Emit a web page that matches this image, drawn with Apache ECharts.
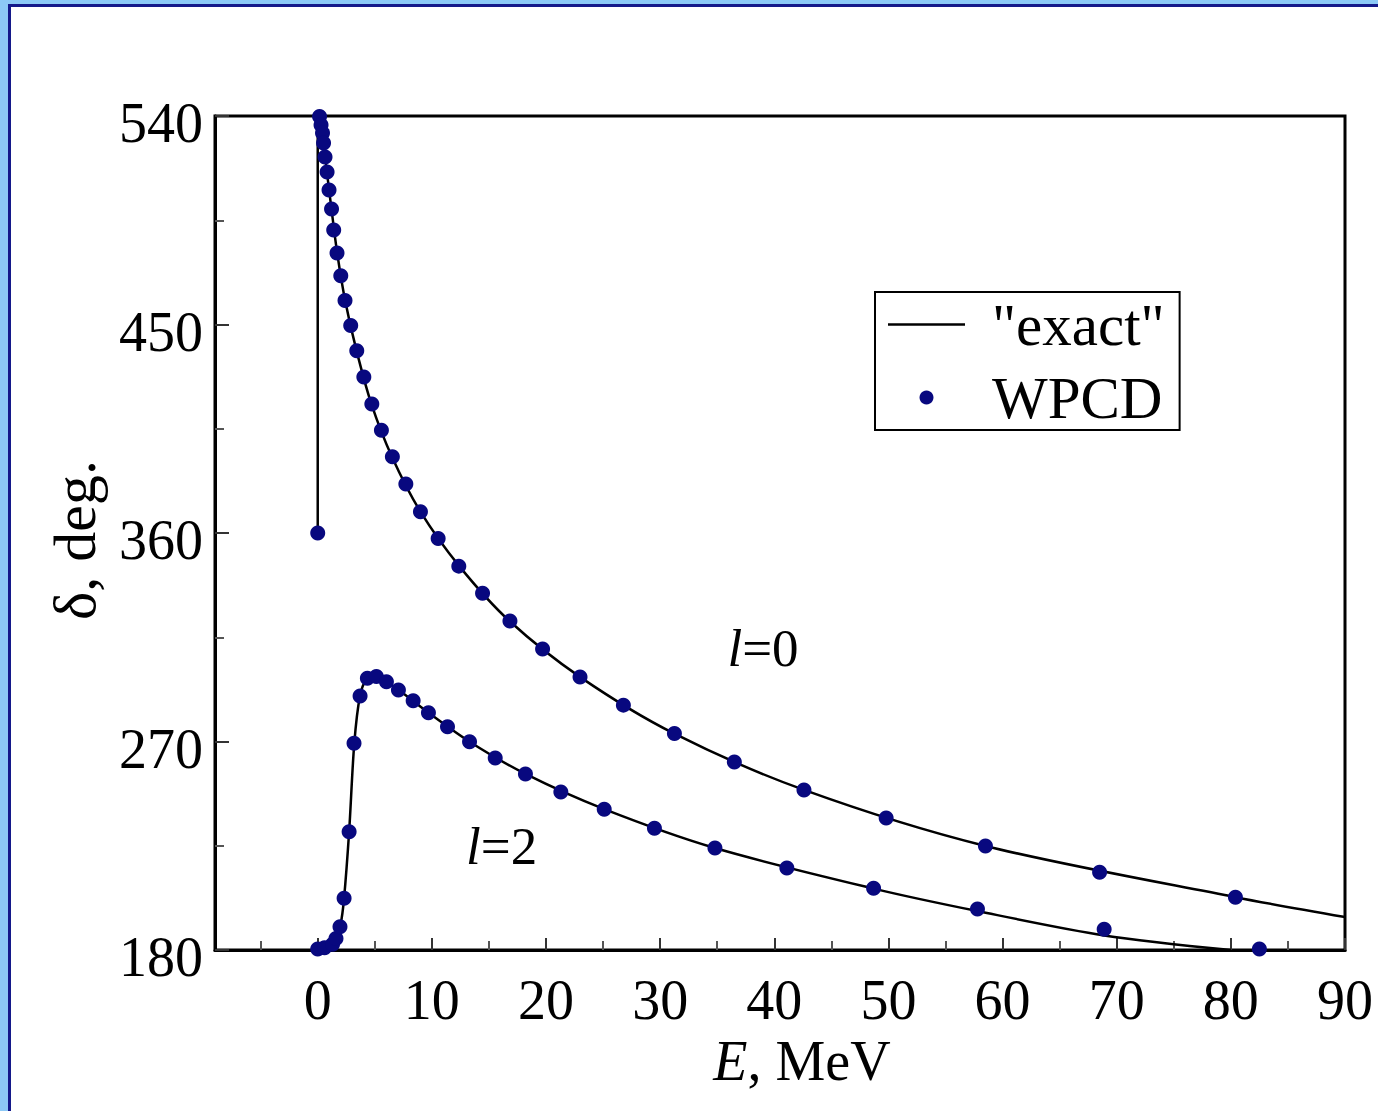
<!DOCTYPE html>
<html>
<head>
<meta charset="utf-8">
<script src="https://cdn.jsdelivr.net/npm/echarts@6/dist/echarts.min.js"></script>
<style>
  html, body { margin: 0; padding: 0; width: 1378px; height: 1111px; overflow: hidden; background: #fff; }
  #frame { position: absolute; left: 0; top: 0; width: 1378px; height: 1111px; background: #8cc9f6; }
  #paper { position: absolute; left: 8px; top: 4px; right: 0; bottom: 0; background: #fff;
           border-left: 3px solid #14198a; border-top: 3px solid #14198a; }
  #chart { position: absolute; left: 0; top: 0; width: 1378px; height: 1111px; }
</style>
</head>
<body>
<div id="frame"><div id="paper"></div></div>
<div id="chart"></div>
<script>
// Phase shifts delta (deg) versus energy E (MeV), pairs [E, delta]

// WPCD points, l = 0
const wpcdL0 = [
  [0, 360],
  [0.16, 539.8], [0.29, 536.1], [0.42, 532.7], [0.51, 528.3], [0.64, 522.3],
  [0.82, 515.8], [0.99, 508.1], [1.21, 499.9], [1.40, 490.8], [1.69, 480.9],
  [2.02, 471.0], [2.39, 460.4], [2.89, 449.6], [3.42, 438.7], [4.04, 427.3],
  [4.74, 415.7], [5.58, 404.4], [6.54, 392.9], [7.72, 381.1], [9.0, 369.2],
  [10.55, 357.6], [12.36, 345.7], [14.44, 334.0], [16.84, 322.0], [19.7, 309.9],
  [22.98, 297.8], [26.78, 285.7], [31.25, 273.5], [36.5, 261.1], [42.6, 249.1],
  [49.8, 237.0], [58.5, 224.9], [68.5, 213.6], [80.4, 202.8]
];

// WPCD points, l = 2
const wpcdL2 = [
  [0, 180.4], [0.6, 181.0], [1.3, 182.5], [1.6, 185.0], [1.95, 190.0],
  [2.31, 202.3], [2.75, 231.0], [3.18, 269.2], [3.71, 289.6], [4.35, 297.3],
  [5.14, 298.1], [6.02, 295.8], [7.07, 292.2], [8.36, 287.6], [9.7, 282.4],
  [11.37, 276.4], [13.3, 269.9], [15.55, 262.9], [18.2, 256.0], [21.3, 248.2],
  [25.1, 240.8], [29.5, 232.6], [34.8, 224.0], [41.1, 215.4], [48.7, 206.7],
  [57.8, 197.7], [68.9, 189.0], [82.5, 180.4]
];

// "exact" curves
const exactL0Threshold = [[0, 360], [0, 540]];
const exactL0 = [
  [0.12, 540], [0.3, 536], [0.5, 528.5], [0.8, 516], [1.2, 500], [1.7, 481],
  [2.4, 460.4], [3.4, 438.7], [4.7, 415.7], [6.5, 392.9], [9.0, 369.2],
  [12.4, 345.7], [16.8, 322.0], [23.0, 297.8], [31.2, 273.5], [42.6, 249.1],
  [58.5, 224.9], [80.4, 202.8], [90, 194.2]
];
const exactL2 = [
  [0, 180], [1.0, 181.5], [1.6, 185], [2.0, 191], [2.3, 202], [2.75, 231],
  [3.2, 269], [3.7, 289.6], [4.3, 297], [5.1, 298], [6.0, 295.8], [7.1, 292.2],
  [9.7, 282.4], [13.3, 269.9], [18.2, 256.0], [25.1, 240.8], [34.8, 224.0],
  [48.7, 206.5], [57.8, 196.8], [68.9, 186.3], [80, 180]
];

// Axis ticks
const xMajorTicks = [0, 10, 20, 30, 40, 50, 60, 70, 80, 90];
const xMinorTicks = [-5, 5, 15, 25, 35, 45, 55, 65, 75, 85];
const yTicks = [180, 270, 360, 450, 540];

// Curve annotations: [E, delta, orbital momentum]
const curveNotes = [[35.9, 310.3, '0'], [13.0, 224.9, '2']];

const FONT = "'Liberation Serif', 'Times New Roman', serif";
const DOT = '#08087f';

const chart = echarts.init(document.getElementById('chart'), null, { renderer: 'svg' });

const option = {
  animation: false,
  backgroundColor: 'transparent',
  grid: {
    left: 215, top: 116, width: 1130, height: 834,
    show: true, borderColor: '#000', borderWidth: 3, backgroundColor: 'transparent'
  },
  legend: {
    left: 875, top: 292, orient: 'vertical',
    data: [
      { name: '"exact"', icon: 'path://M0,0H77V2.5H0Z', itemStyle: { color: '#000' } },
      { name: 'WPCD', icon: 'circle', itemStyle: { color: DOT } }
    ],
    itemWidth: 77, itemHeight: 14, itemGap: 14,
    borderColor: '#000', borderWidth: 2, padding: [3, 15, 3, 13],
    selectedMode: false,
    textStyle: { fontFamily: FONT, fontSize: 59, color: '#000', padding: [0, 0, 0, 22] }
  },
  xAxis: [
    {
      type: 'value', min: -9, max: 90,
      name: '{i|E}, MeV', nameLocation: 'middle', nameGap: 78,
      nameTextStyle: {
        fontFamily: FONT, fontSize: 56, color: '#000', padding: [0, 0, 0, 44],
        rich: { i: { fontFamily: FONT, fontSize: 56, fontStyle: 'italic', color: '#000' } }
      },
      axisLine: { show: true, onZero: false, lineStyle: { color: '#000', width: 3 } },
      axisTick: { show: true, inside: true, length: 12, customValues: xMajorTicks,
                  lineStyle: { color: '#333', width: 2 } },
      axisLabel: { show: true, customValues: xMajorTicks, margin: 22,
                   fontFamily: FONT, fontSize: 56, color: '#000' },
      splitLine: { show: false }
    },
    {
      type: 'value', min: -9, max: 90, position: 'bottom',
      axisLine: { show: false, onZero: false },
      axisTick: { show: true, inside: true, length: 9, customValues: xMinorTicks,
                  lineStyle: { color: '#555', width: 2 } },
      axisLabel: { show: false },
      splitLine: { show: false }
    }
  ],
  yAxis: {
    type: 'value', min: 180, max: 540, interval: 90,
    name: 'δ, deg.', nameLocation: 'middle', nameGap: 110,
    nameTextStyle: { fontFamily: FONT, fontSize: 60, color: '#000', padding: [0, 14, 0, 0] },
    axisLine: { show: true, onZero: false, lineStyle: { color: '#000', width: 3 } },
    axisTick: { show: true, inside: true, length: 14, customValues: yTicks,
                lineStyle: { color: '#333', width: 2 } },
    minorTick: { show: true, splitNumber: 2, length: 9, lineStyle: { color: '#555', width: 2 } },
    axisLabel: {
      show: true, customValues: yTicks, margin: 12,
      formatter: '{v|{value}}',
      rich: { v: { fontFamily: FONT, fontSize: 56, color: '#000', padding: [14, 0, 0, 0] } }
    },
    splitLine: { show: false }, minorSplitLine: { show: false }
  },
  series: [
    { name: '"exact"', type: 'line', xAxisIndex: 0, data: exactL0, smooth: 0.3,
      symbol: 'none', color: '#000', lineStyle: { color: '#000', width: 2.5 }, z: 2 },
    { name: '"exact"', type: 'line', xAxisIndex: 0, data: exactL0Threshold,
      symbol: 'none', color: '#000', lineStyle: { color: '#000', width: 2.5 }, z: 2 },
    { name: '"exact"', type: 'line', xAxisIndex: 0, data: exactL2, smooth: 0.3,
      symbol: 'none', color: '#000', lineStyle: { color: '#000', width: 2.5 }, z: 2 },
    { name: 'WPCD', type: 'scatter', xAxisIndex: 0, data: wpcdL0, symbol: 'circle',
      symbolSize: 15, itemStyle: { color: DOT, opacity: 1 }, z: 3 },
    { name: 'WPCD', type: 'scatter', xAxisIndex: 0, data: wpcdL2, symbol: 'circle',
      symbolSize: 15, itemStyle: { color: DOT, opacity: 1 }, z: 3 }
  ]
};

chart.setOption(option);

// Place the "l=…" annotations at their data coordinates
const notes = curveNotes.map(([e, d, l]) => {
  const [px, py] = chart.convertToPixel({ xAxisIndex: 0, yAxisIndex: 0 }, [e, d]);
  return {
    type: 'text', x: px, y: py, z: 10,
    style: {
      text: '{i|l}=' + l,
      fontFamily: FONT, fontSize: 53, fill: '#000',
      align: 'left', verticalAlign: 'middle',
      rich: { i: { fontFamily: FONT, fontSize: 53, fontStyle: 'italic', fill: '#000' } }
    }
  };
});
chart.setOption({ graphic: notes });
</script>
</body>
</html>
